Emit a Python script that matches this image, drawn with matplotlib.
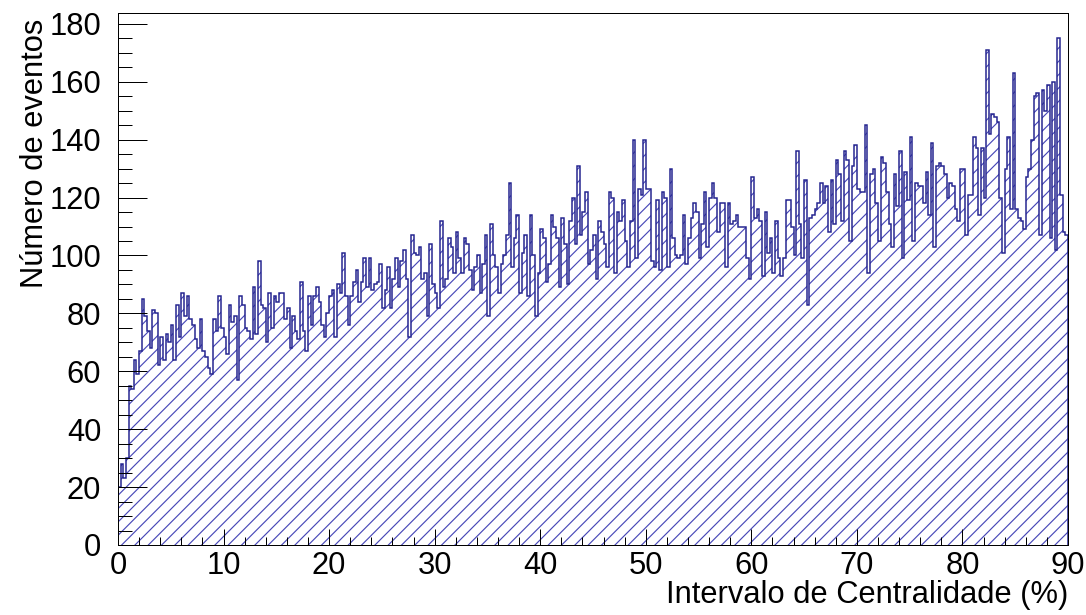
import numpy as np
import matplotlib.pyplot as plt
from matplotlib.ticker import MultipleLocator

counts = [
    20, 28, 23, 30, 55, 54, 64, 59, 67, 85, 79, 74, 68, 81, 80, 62, 72, 64, 73, 70,
    76, 64, 83, 72, 87, 79, 86, 78, 76, 71, 68, 78, 67, 65, 61, 59, 78, 74, 86, 75,
    72, 66, 83, 77, 79, 57, 86, 83, 75, 74, 71, 89, 73, 98, 83, 82, 70, 87, 75, 86,
    84, 87, 87, 78, 82, 68, 79, 74, 71, 91, 74, 67, 86, 76, 86, 89, 84, 76, 72, 80,
    86, 88, 72, 90, 87, 101, 86, 76, 86, 91, 95, 84, 91, 99, 89, 99, 88, 90, 91, 97,
    82, 88, 96, 82, 92, 99, 89, 98, 102, 92, 72, 107, 101, 100, 103, 92, 94, 79, 104, 90,
    87, 82, 112, 89, 92, 106, 103, 94, 108, 99, 94, 106, 104, 95, 88, 96, 100, 87, 97, 107,
    79, 111, 100, 96, 87, 97, 100, 107, 125, 96, 106, 114, 87, 101, 107, 86, 114, 100, 79, 94,
    109, 106, 91, 97, 114, 110, 106, 89, 113, 104, 90, 112, 120, 104, 131, 107, 115, 122, 97, 102,
    107, 92, 112, 108, 104, 96, 122, 120, 94, 115, 112, 119, 105, 96, 112, 140, 99, 123, 121, 140,
    123, 123, 98, 96, 119, 95, 122, 120, 96, 130, 106, 100, 99, 100, 114, 97, 106, 113, 118, 115,
    99, 111, 122, 103, 120, 125, 120, 108, 118, 118, 96, 118, 111, 112, 114, 110, 110, 110, 99, 92,
    127, 113, 116, 112, 93, 115, 101, 106, 94, 112, 99, 93, 99, 119, 119, 110, 100, 136, 111, 99,
    126, 83, 113, 114, 116, 118, 125, 118, 124, 108, 126, 111, 133, 128, 112, 136, 133, 105, 131, 138,
    123, 122, 122, 145, 94, 128, 130, 118, 105, 134, 132, 122, 111, 103, 128, 117, 136, 99, 129, 119,
    141, 105, 125, 124, 124, 118, 129, 114, 139, 103, 131, 132, 131, 128, 120, 125, 124, 116, 112, 130,
    130, 107, 121, 121, 141, 137, 114, 137, 120, 171, 142, 149, 148, 146, 120, 101, 130, 141, 116, 163,
    116, 113, 112, 109, 127, 130, 140, 155, 156, 107, 157, 150, 159, 106, 160, 102, 175, 121, 108, 107,
]
x_min, x_max = 0, 90
edges = np.linspace(x_min, x_max, len(counts) + 1)

xlabel = 'Intervalo de Centralidade (%)'
ylabel = 'Número de eventos'

line_col = '#23238f'
hatch_col = '#4848b8'
fs = 18.5

plt.rcParams['font.family'] = ['Liberation Sans', 'DejaVu Sans']
plt.rcParams['hatch.linewidth'] = 0.7
plt.rcParams['hatch.color'] = hatch_col

fig = plt.figure(figsize=(9.05, 5.125), dpi=120)
ax = fig.add_axes([118 / 1086, 70 / 615, 950 / 1086, 532 / 615])

# preenchimento tracejado e contorno
ax.stairs(counts, edges, fill=True, hatch='///', facecolor='none',
          edgecolor=hatch_col, linewidth=0)
ax.stairs(counts, edges, baseline=0, color=line_col, linewidth=0.9)

ax.set_xlim(x_min, x_max)
ax.set_ylim(0, max(counts) * 1.05)

ax.xaxis.set_major_locator(MultipleLocator(10))
ax.xaxis.set_minor_locator(MultipleLocator(2))
ax.yaxis.set_major_locator(MultipleLocator(20))
ax.yaxis.set_minor_locator(MultipleLocator(5))

ax.tick_params(direction='in', which='both', top=False, right=False,
               width=0.6, labelsize=fs)
ax.tick_params(axis='y', which='major', length=17.4, pad=10)
ax.tick_params(axis='y', which='minor', length=8.4)
ax.tick_params(axis='x', which='major', length=9.6, pad=3.5)
ax.tick_params(axis='x', which='minor', length=4.8)

for s in ax.spines.values():
    s.set_linewidth(0.6)

ax.set_xlabel(xlabel, fontsize=fs, loc='right')
ax.set_ylabel(ylabel, fontsize=fs, loc='top')
ax.xaxis.set_label_coords(1.0, -0.0667)
ax.yaxis.set_label_coords(-0.0720, 0.99)

fig.savefig('out.png', dpi=120)
